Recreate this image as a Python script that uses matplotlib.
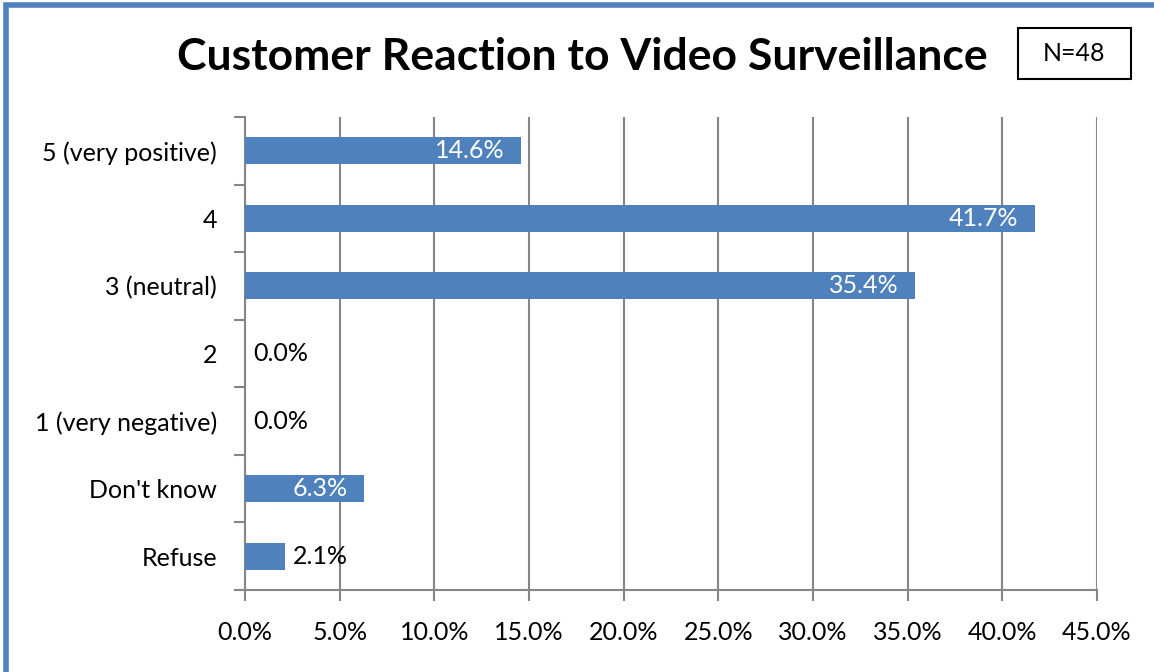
import matplotlib.pyplot as plt
from matplotlib.patches import Rectangle
from matplotlib.ticker import FuncFormatter

categories = ["5 (very positive)", "4", "3 (neutral)", "2", "1 (very negative)", "Don't know", "Refuse"]
values = [14.6, 41.7, 35.4, 0.0, 0.0, 6.3, 2.1]
x_ticks = [0, 5, 10, 15, 20, 25, 30, 35, 40, 45]

bar_color = "#4F81BD"
grid_color = "#868686"

plt.rcParams["font.family"] = ["Lato", "DejaVu Sans"]

fig = plt.figure(figsize=(11.54, 6.72), dpi=100)
ax = fig.add_axes([0.2123, 0.122, 0.7383, 0.7039])

pos = list(range(len(categories)))
ax.barh(pos, values, height=0.4, color=bar_color, zorder=3)
ax.set_ylim(len(categories) - 0.5, -0.5)
ax.set_xlim(0, 45)

# labels: inside the bar end when there's room, otherwise just outside
for y, v in zip(pos, values):
    txt = f"{v:.1f}%"
    if v > 5:
        ax.annotate(txt, (v, y), xytext=(-12, 0), textcoords="offset points",
                    ha="right", va="center", color="white", fontsize=18, zorder=4)
    else:
        ax.annotate(txt, (v, y), xytext=(6, 0), textcoords="offset points",
                    ha="left", va="center", color="black", fontsize=18, zorder=4)

ax.set_xticks(x_ticks)
ax.xaxis.set_major_formatter(FuncFormatter(lambda v, p: f"{v:.1f}%"))
ax.set_yticks(pos)
ax.set_yticklabels(categories)
ax.set_yticks([p - 0.5 for p in pos] + [len(categories) - 0.5], minor=True)

ax.tick_params(axis="y", which="major", length=0, pad=20, labelsize=18)
ax.tick_params(axis="y", which="minor", length=8, color=grid_color, width=1.5)
ax.tick_params(axis="x", length=8, color=grid_color, width=1.5, labelsize=18, pad=14)

ax.grid(axis="x", color=grid_color, linewidth=1.5, zorder=0)
for s in ["top", "right"]:
    ax.spines[s].set_visible(False)
for s in ["left", "bottom"]:
    ax.spines[s].set_color(grid_color)
    ax.spines[s].set_linewidth(1.5)

fig.text(0.505, 0.915, "Customer Reaction to Video Surveillance", ha="center", va="center",
         fontsize=32, fontweight="bold")

# sample size box
fig.patches.append(Rectangle((0.8821, 0.8824), 0.0979, 0.0759, transform=fig.transFigure,
                             facecolor="white", edgecolor="black", linewidth=1.5))
fig.text(0.9311, 0.9204, "N=48", ha="center", va="center", fontsize=18)

# outer chart border
fig.patches.append(Rectangle((0.005, -0.05), 1.2, 1.043, transform=fig.transFigure,
                             fill=False, edgecolor=bar_color, linewidth=4))

fig.savefig("out.png", dpi=100)
